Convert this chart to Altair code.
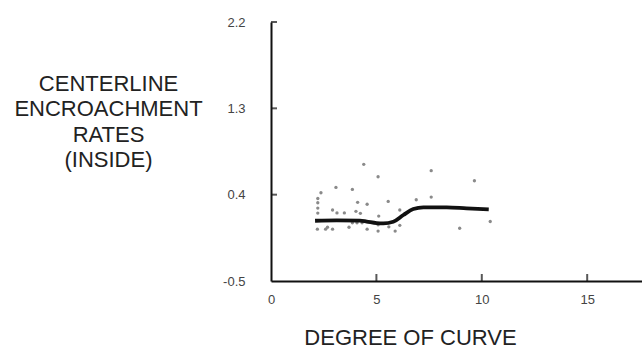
import altair as alt
import pandas as pd

# scattered observations
pt_x = [4.40, 5.08, 7.60, 9.65, 2.37, 3.08, 3.86, 2.22, 4.11, 4.56, 5.56, 6.89, 7.60,
        2.22, 2.92, 3.13, 3.48, 4.03, 4.24, 5.11, 6.11, 2.20, 2.59, 2.68, 2.92, 3.70,
        3.86, 4.08, 4.32, 4.56, 5.08, 5.08, 5.59, 5.89, 6.11, 8.95, 10.40, 2.22, 2.22]
pt_y = [0.716, 0.587, 0.650, 0.545, 0.420, 0.476, 0.455, 0.316, 0.320, 0.300, 0.330, 0.347, 0.375,
        0.208, 0.240, 0.210, 0.210, 0.226, 0.205, 0.177, 0.240, 0.040, 0.040, 0.060, 0.040, 0.060,
        0.107, 0.107, 0.107, 0.040, 0.086, 0.020, 0.065, 0.020, 0.080, 0.050, 0.120, 0.360, 0.260]

# smoothed fit
fit_x = [2.09, 3.12, 4.22, 4.54, 5.01, 5.33, 5.80, 6.28, 6.75, 7.23, 8.34, 9.28, 10.33]
fit_y = [0.128, 0.132, 0.130, 0.120, 0.103, 0.100, 0.118, 0.188, 0.250, 0.268, 0.268, 0.257, 0.247]

x_ticks = [5, 10, 15]
y_ticks = [-0.5, 0.4, 1.3, 2.2]

pts = pd.DataFrame({"x": pt_x, "y": pt_y})
fit = pd.DataFrame({"x": fit_x, "y": fit_y})
xt = pd.DataFrame({"x": x_ticks, "y": [y_ticks[0]] * len(x_ticks)})
yt = pd.DataFrame({"y": y_ticks[1:], "x": [0.0] * 3})

FONT = "Liberation Sans"
xscale = alt.Scale(domain=[0, 17.6], nice=False, zero=False)
yscale = alt.Scale(domain=[-0.5, 2.2], nice=False, zero=False)

xaxis = alt.Axis(
    values=[0, 5, 10, 15], labelExpr="'' + datum.value", ticks=False, tickSize=0,
    grid=False, domainColor="#111", domainWidth=2, labelPadding=12,
    labelFont=FONT, labelFontSize=13, labelColor="#444", labelFlush=False,
    title="DEGREE  OF  CURVE", titleFont=FONT, titleFontSize=22, titleFontWeight="normal",
    titleColor="#222", titleAnchor="start", titleAlign="center", titleBaseline="alphabetic",
    titleX=139, titleY=63,
)
yaxis = alt.Axis(
    values=y_ticks, labelExpr="'' + datum.value", ticks=False, tickSize=0,
    grid=False, domainColor="#111", domainWidth=2, labelPadding=26,
    labelFont=FONT, labelFontSize=13, labelColor="#444", labelFlush=False,
    labelOverlap=False,
    title=["CENTERLINE", "ENCROACHMENT", "RATES", "(INSIDE)"], titleFont=FONT,
    titleFontSize=22, titleFontWeight="normal", titleColor="#222", titleAngle=0,
    titleAlign="center", titleBaseline="top", titleLineHeight=25.5,
    titleX=-163, titleY=51, titleAnchor="start",
)

points = alt.Chart(pts).mark_circle(size=11, color="#8a8a8a", opacity=1).encode(
    x=alt.X("x:Q", scale=xscale, axis=xaxis),
    y=alt.Y("y:Q", scale=yscale, axis=yaxis),
)
xticks = alt.Chart(xt).mark_tick(color="#111", thickness=2, size=7, orient="vertical",
                                 yOffset=-3.5).encode(
    x=alt.X("x:Q", scale=xscale),
    y=alt.Y("y:Q", scale=yscale),
)
yticks = alt.Chart(yt).mark_tick(color="#111", thickness=2, size=6, orient="horizontal",
                                 xOffset=3).encode(
    x=alt.X("x:Q", scale=xscale),
    y=alt.Y("y:Q", scale=yscale),
)
line = alt.Chart(fit).mark_line(color="#111", strokeWidth=3.8, interpolate="monotone").encode(
    x=alt.X("x:Q", scale=xscale),
    y=alt.Y("y:Q", scale=yscale),
)

chart = alt.layer(points, xticks, yticks, line).properties(
    width=371, height=259,
    background="white",
    autosize=alt.AutoSizeParams(type="none"),
    padding={"left": 271, "top": 22, "right": 0, "bottom": 69},
).configure_view(stroke=None)

chart.save("out.html", embed_options={"renderer": "svg", "actions": False})
